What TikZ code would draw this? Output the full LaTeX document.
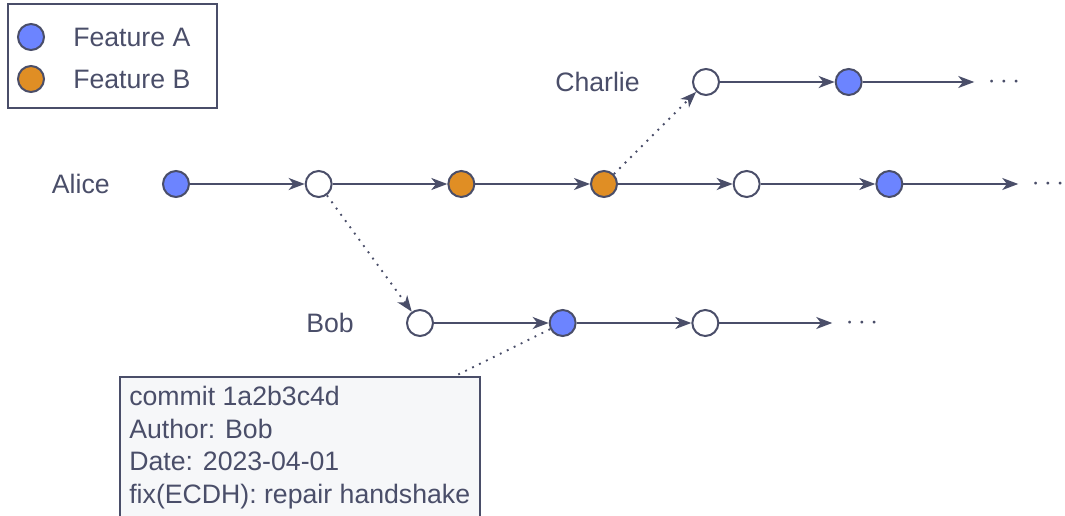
\documentclass[tikz,border=0pt]{standalone}
\usepackage{fontspec}
\setmainfont{Liberation Sans}
\usetikzlibrary{arrows.meta,positioning}

\definecolor{inkgray}{HTML}{4A4E69}
\definecolor{featA}{HTML}{6C84FF}
\definecolor{featB}{HTML}{E08E24}
\definecolor{notefill}{HTML}{F6F7F9}

\begin{document}
\begin{tikzpicture}[x=0.75pt, y=0.75pt,
        commit/.style={circle, draw=inkgray, line width=1.5pt, fill=white, minimum size=19.5pt, inner sep=0pt},
        feata/.style={commit, fill=featA},
        featb/.style={commit, fill=featB},
        flow/.style={draw=inkgray, line width=1.5pt, -{Stealth[length=12pt, width=9pt, inset=3.5pt]}},
        link/.style={draw=inkgray, line width=1.4pt, dash pattern=on 1.4pt off 4.4pt},
        merge/.style={link, -{Stealth[length=12pt, width=9pt, inset=3.5pt]}},
        more/.style={inner xsep=10pt, inner ysep=2pt},
        note/.style={draw=inkgray, line width=1.5pt, fill=notefill, align=left, inner xsep=7pt, inner ysep=7pt},
        node distance=107pt, on grid,
        font=\fontsize{20}{24.4}\selectfont, text=inkgray,
        every label/.style={inner sep=0pt, text=inkgray},
        label distance=39pt]
                \useasboundingbox (0,0) rectangle (1065,515);

                % legend
                \node[feata, label={[label distance=21pt]right:Feature A}] (keyA) at (31,478) {};
                \node[featb, label={[label distance=21pt]right:Feature B}] (keyB) at (31,436) {};
                \draw[draw=inkgray, line width=1.5pt] (8,407) rectangle (217,511);

                % Alice
                \node[feata, label=left:{Alice}] (a1) at (176,331) {};
                \node[commit] (a2) [right=of a1] {};
                \node[featb] (a3) [right=of a2] {};
                \node[featb] (a4) [right=of a3] {};
                \node[commit] (a5) [right=of a4] {};
                \node[feata] (a6) [right=of a5] {};
                \node[more] (a7) at (1048,331) {$\cdots$};

                % Charlie
                \node[commit, label=left:{Charlie}] (c1) at (706,433) {};
                \node[feata] (c2) [right=of c1] {};
                \node[more] (c3) at (1004,433) {$\cdots$};

                % Bob
                \node[commit, label=left:{Bob}] (b1) at (420,192) {};
                \node[feata] (b2) [right=of b1] {};
                \node[commit] (b3) [right=of b2] {};
                \node[more] (b4) at (862,192) {$\cdots$};

                \draw[flow] (a1) -- (a2);
                \draw[flow] (a2) -- (a3);
                \draw[flow] (a3) -- (a4);
                \draw[flow] (a4) -- (a5);
                \draw[flow] (a5) -- (a6);
                \draw[flow] (a6) -- (a7);
                \draw[flow] (c1) -- (c2);
                \draw[flow] (c2) -- (c3);
                \draw[flow] (b1) -- (b2);
                \draw[flow] (b2) -- (b3);
                \draw[flow] (b3) -- (b4);

                \draw[merge] (a2) -- (b1);
                \draw[merge] (a4) -- (c1);

                % commit message
                \node[note, anchor=north west] (msg) at (119,139)
                    {commit 1a2b3c4d\\Author: Bob\\Date: 2023-04-01\\fix(ECDH): repair handshake\\\rule{0pt}{10pt}};
                \coordinate (msgtip) at ([xshift=-19pt]msg.north east);
                \draw[link] (b2) -- (msgtip);
\end{tikzpicture}
\end{document}
